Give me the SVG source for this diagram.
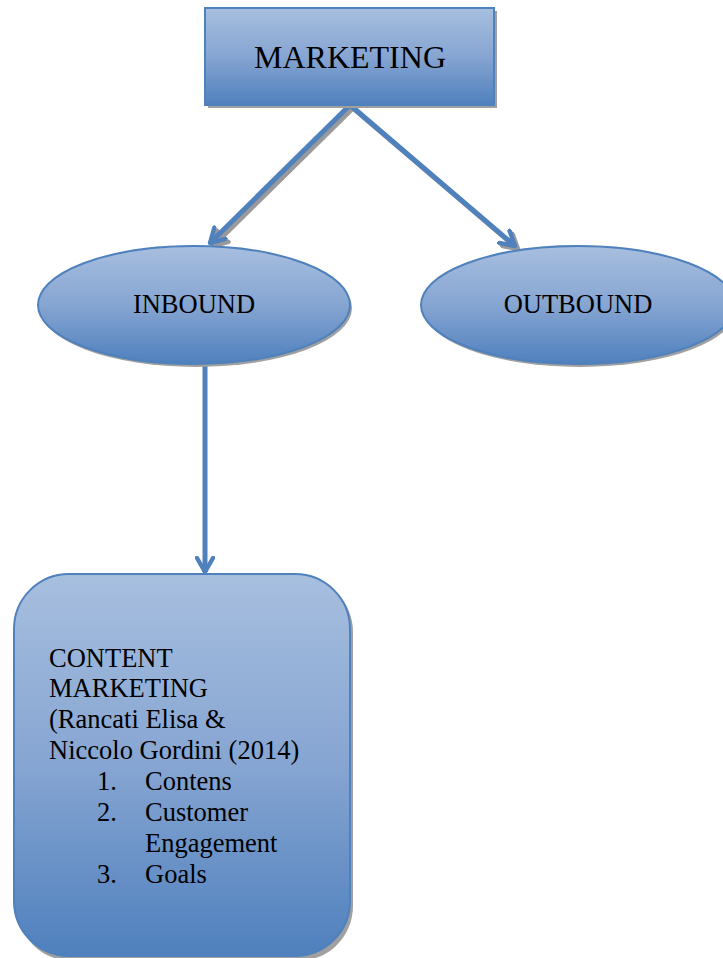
<svg xmlns="http://www.w3.org/2000/svg" width="723" height="958" viewBox="0 0 723 958">
<defs>
<linearGradient id="g" x1="0" y1="0" x2="0" y2="1">
<stop offset="0" stop-color="#a7bfdf"/>
<stop offset="0.5" stop-color="#86a5d2"/>
<stop offset="1" stop-color="#4f80bd"/>
</linearGradient>
<marker id="ah" viewBox="0 0 10 10" refX="8" refY="5" markerWidth="4" markerHeight="4" orient="auto" markerUnits="strokeWidth">
<path d="M1,1 L8,5 L1,9" fill="none" stroke="#4f81bd" stroke-width="2.2" stroke-linecap="round" stroke-linejoin="round"/>
</marker>
<marker id="ahs" viewBox="0 0 10 10" refX="8" refY="5" markerWidth="4" markerHeight="4" orient="auto" markerUnits="strokeWidth">
<path d="M1,1 L8,5 L1,9" fill="none" stroke="#9a9a9a" stroke-width="2.2" stroke-linecap="round" stroke-linejoin="round"/>
</marker>
</defs>
<style>
.shape{fill:url(#g);stroke:#4f81bd;stroke-width:2}
.shadow{fill:#a0a0a0}
.t{font-family:"Liberation Serif","Times New Roman",serif;fill:#000}
.c{stroke:#4f81bd;stroke-width:5;fill:none;marker-end:url(#ah)}
.cs{stroke:#9a9a9a;stroke-width:5;fill:none;marker-end:url(#ahs)}
</style>
<g id="connectors">
<line class="cs" x1="353" y1="108" x2="213" y2="246"/>
<line class="cs" x1="353" y1="108" x2="518" y2="249"/>
<line class="c" x1="350" y1="105" x2="210" y2="243"/>
<line class="c" x1="350" y1="105" x2="515" y2="246"/>
<line class="c" x1="205" y1="366" x2="205" y2="572"/>
</g>
<g id="marketing">
<rect class="shadow" x="208" y="11" width="289" height="97"/>
<rect class="shape" x="205" y="8" width="289" height="97"/>
<text class="t" x="350" y="68" font-size="32" text-anchor="middle">MARKETING</text>
</g>
<g id="inbound">
<ellipse class="shadow" cx="196" cy="308" rx="156" ry="59"/>
<ellipse class="shape" cx="194" cy="305" rx="156" ry="59"/>
<text class="t" x="194" y="313" font-size="26.5" text-anchor="middle">INBOUND</text>
</g>
<g id="outbound">
<ellipse class="shadow" cx="580" cy="308" rx="157" ry="59"/>
<ellipse class="shape" cx="578" cy="305" rx="157" ry="59"/>
<text class="t" x="578" y="313" font-size="26.5" text-anchor="middle">OUTBOUND</text>
</g>
<g id="content">
<rect class="shadow" x="17" y="577" width="336" height="384" rx="55"/>
<rect class="shape" x="14" y="574" width="336" height="382" rx="55"/>
<g class="t" font-size="26.5">
<text x="49" y="667">CONTENT</text>
<text x="49" y="697">MARKETING</text>
<text x="49" y="728">(Rancati Elisa &amp;</text>
<text x="49" y="759">Niccolo Gordini (2014)</text>
<text x="97" y="790">1.</text><text x="145" y="790">Contens</text>
<text x="97" y="821">2.</text><text x="145" y="821">Customer</text>
<text x="145" y="852">Engagement</text>
<text x="97" y="883">3.</text><text x="145" y="883">Goals</text>
</g>
</g>
</svg>
